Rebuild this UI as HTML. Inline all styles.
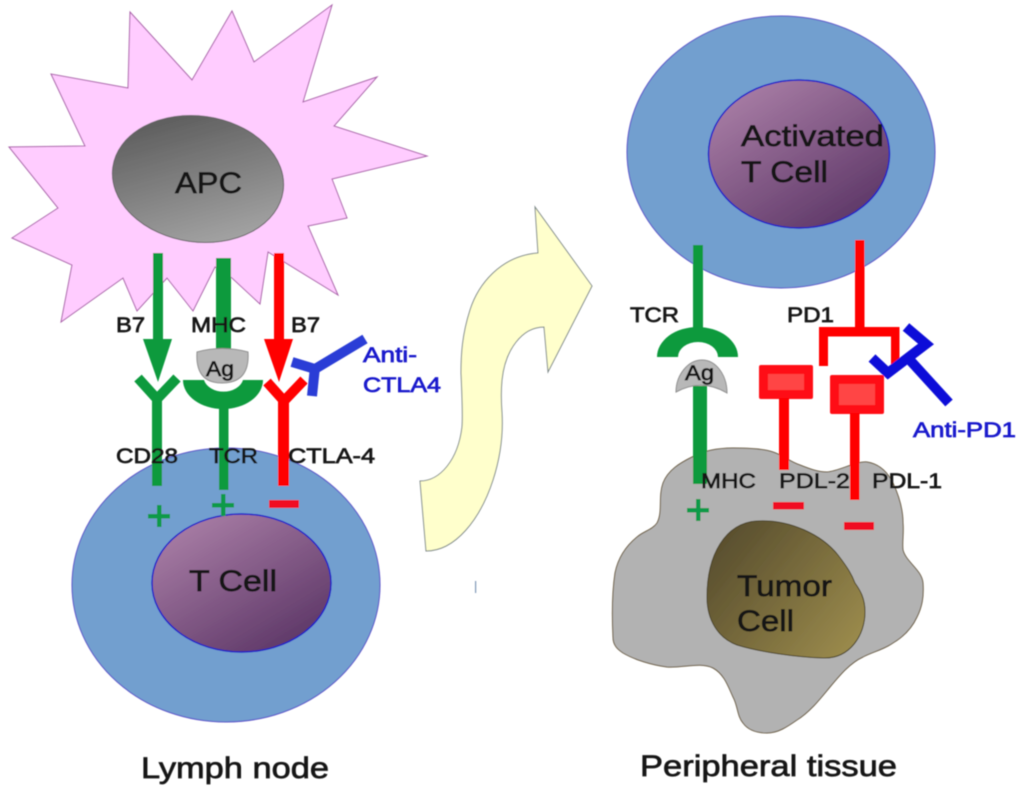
<!DOCTYPE html>
<html><head><meta charset="utf-8"><style>html,body{margin:0;padding:0;background:#fff}svg{display:block}text{font-family:"Liberation Sans",sans-serif;fill:#151515;stroke:#151515;stroke-width:.7}</style></head>
<body>
<svg width="1024" height="797" viewBox="0 0 1024 797" xmlns="http://www.w3.org/2000/svg">
<defs>
<linearGradient id="g" x1="0.2" y1="0" x2="0.8" y2="1"><stop offset="0" stop-color="#595959"/><stop offset="1" stop-color="#a8a8a8"/></linearGradient>
<linearGradient id="p" x1="0.15" y1="0.05" x2="0.85" y2="0.95"><stop offset="0" stop-color="#a97ea6"/><stop offset="1" stop-color="#5c3666"/></linearGradient>
<linearGradient id="t" x1="0" y1="0.1" x2="1" y2="0.8"><stop offset="0" stop-color="#544a2c"/><stop offset="1" stop-color="#9a8a4c"/></linearGradient>
<filter id="b"><feGaussianBlur stdDeviation="0.45"/></filter>
</defs>
<g filter="url(#b)">
<polygon points="130,12 192,80 232,11 254,62 332,5 303,102 377,77 334,126 427,156 332,179 347,218 308,226 338,295 268,252 260,304 232,278 215,267 193,311 167,278 137,311 123,278 61,322 72,265 12,238 58,208 9,147 85,146 51,74 128,88" fill="#ffccff" stroke="#a860a8" stroke-width="1"/>
<ellipse cx="198" cy="179" rx="86" ry="63" transform="rotate(8 198 179)" fill="url(#g)" stroke="#666" stroke-width="1"/>
<ellipse cx="226" cy="585" rx="154" ry="137" fill="#729fcf" stroke="#5a50c8" stroke-width="1"/>
<ellipse cx="241.500" cy="583" rx="89.500" ry="69" fill="url(#p)" stroke="#1a1ac8" stroke-width="1.500"/>
<ellipse cx="781" cy="152" rx="154" ry="136" fill="#729fcf" stroke="#5a50c8" stroke-width="1"/>
<ellipse cx="799" cy="154" rx="90.500" ry="74" fill="url(#p)" stroke="#1a1ac8" stroke-width="1.500"/>
<path d="M535,207 L538,253 C500,256 478,285 470,310 C462,335 461,355 461,373 C462,395 463,415 462,427 C458,460 440,481 420,481 L426,551 C455,551 480,520 493,480 C502,452 503,430 502,413 C501,400 501,390 502,380 C505,350 522,327 544,327 L548,372 L592,286 Z" fill="#ffffcc" stroke="#7f8a8a" stroke-width="1"/>
<rect x="475" y="581" width="1.200" height="12" fill="#7f97b5"/>
<path d="M692,457 C705,450 720,448 733,448 C750,448 765,449 773,452 C785,456 790,462 800,465 C810,469 818,472 827,472 C840,471 855,461 867,462 C880,464 888,473 893,483 C900,498 903,510 903,523 C904,533 902,542 903,550 C906,562 922,570 923,583 C924,597 922,607 917,617 C912,628 903,637 893,643 C883,650 872,652 863,657 C850,663 840,675 830,687 C820,699 810,712 797,720 C787,727 778,733 767,733 C757,733 748,730 743,723 C737,716 738,706 733,697 C728,686 724,674 713,668 C700,662 684,668 667,667 C652,665 635,660 623,653 C617,649 613,645 613,637 C612,617 612,593 615,573 C618,558 626,546 637,537 C644,531 652,530 657,523 C663,512 658,497 663,483 C668,470 680,463 692,457 Z" fill="#b2b2b2" stroke="#6b5c40" stroke-width="1"/>
<path d="M757,521 C790,519 822,535 838,555 C848,568 852,575 855,583 C860,590 865,598 865,612 C865,635 850,659 823,658 C795,657 760,652 737,645 C718,638 707,620 707,597 C707,555 725,523 757,521 Z" fill="url(#t)" stroke="#4a4326" stroke-width="1"/>

<!-- left green -->
<rect x="153" y="253" width="10" height="88" fill="#0a9a3e"/>
<polygon points="143,339 172,339 158,382" fill="#0a9a3e"/>
<polyline points="138,378 157,399 177,378" fill="none" stroke="#0a9a3e" stroke-width="10"/>
<rect x="152" y="396" width="10" height="90" fill="#0a9a3e"/>
<rect x="216" y="258" width="15" height="96" fill="#0a9a3e"/>
<path d="M197,352 Q222,345 248,352 Q250,383 222,383 Q195,383 197,352 Z" fill="#b8b8b8" stroke="#8f8f8f" stroke-width="1"/>
<path d="M183,380 A40,29 0 0 0 263,380 L243,380 A20,15 0 0 1 204,380 Z" fill="#0a9a3e"/>
<rect x="219" y="405" width="9.500" height="85" fill="#0a9a3e"/>
<!-- left red -->
<rect x="274" y="253" width="10" height="88" fill="#ff0000"/>
<polygon points="264,339 293,339 279,382" fill="#ff0000"/>
<polyline points="267,382 284,401 304,380" fill="none" stroke="#ff0000" stroke-width="10"/>
<rect x="278" y="398" width="11" height="88" fill="#ff0000"/>
<!-- left blue -->
<polyline points="365,339 315,369 292,362" fill="none" stroke="#2a3cd6" stroke-width="10"/>
<line x1="315" y1="367" x2="312" y2="396" stroke="#2a3cd6" stroke-width="10"/>
<!-- signs -->
<g fill="#0f9a48">
<rect x="148" y="514" width="22" height="4.500"/><rect x="157" y="505" width="4.500" height="22"/>
<rect x="212" y="503" width="22" height="4.500"/><rect x="221" y="494" width="4.500" height="22"/>
<rect x="687" y="508" width="22" height="4.500"/><rect x="696" y="499" width="4.500" height="22"/>
</g>
<g fill="#f01020">
<rect x="269" y="500" width="30" height="8"/>
<rect x="773" y="502" width="31" height="7.500"/>
<rect x="844" y="522" width="30" height="8"/>
</g>

<!-- right green -->
<rect x="693" y="245" width="10" height="90" fill="#0a9a3e"/>
<path d="M657,357 A40.500,30 0 0 1 738,357 L718,357 A20,15 0 0 0 678,357 Z" fill="#0a9a3e"/>
<path d="M676,392 C676,375 688,360 702,360 C716,360 727,375 727,393 Q702,378 676,392 Z" fill="#b8b8b8" stroke="#8f8f8f" stroke-width="1"/>
<rect x="693" y="386" width="14" height="98" fill="#0a9a3e"/>
<!-- right red -->
<rect x="855" y="240" width="9.500" height="90" fill="#ff0000"/>
<rect x="819" y="327" width="80" height="9.500" fill="#ff0000"/>
<rect x="819" y="327" width="9" height="39" fill="#ff0000"/>
<rect x="891" y="327" width="8.500" height="38" fill="#ff0000"/>
<rect x="759" y="365" width="54" height="34" rx="2" fill="#ff0c14"/>
<rect x="768" y="374" width="36" height="16" fill="#ff4444"/>
<rect x="779" y="398" width="10" height="72" fill="#ff0000"/>
<rect x="830" y="375" width="54" height="39" rx="2" fill="#ff0c14"/>
<rect x="839" y="384" width="36" height="21" fill="#ff4444"/>
<rect x="850" y="413" width="9.500" height="87" fill="#ff0000"/>
<!-- right blue -->
<polyline points="872,358 888,373 926,344 906,327" fill="none" stroke="#0a0ad8" stroke-width="10"/>
<line x1="908" y1="358" x2="949" y2="403" stroke="#0a0ad8" stroke-width="10"/>

<!-- text -->
<g>
<text x="175" y="193" font-size="30" textLength="67" lengthAdjust="spacingAndGlyphs">APC</text>
<text x="189" y="591" font-size="30" textLength="88" lengthAdjust="spacingAndGlyphs">T Cell</text>
<text x="741" y="146" font-size="30" textLength="143" lengthAdjust="spacingAndGlyphs">Activated</text>
<text x="741" y="182" font-size="30" textLength="87" lengthAdjust="spacingAndGlyphs">T Cell</text>
<text x="737" y="596" font-size="30" textLength="95" lengthAdjust="spacingAndGlyphs">Tumor</text>
<text x="737" y="631" font-size="30" textLength="57" lengthAdjust="spacingAndGlyphs">Cell</text>
<text x="116" y="332" font-size="21" textLength="29" lengthAdjust="spacingAndGlyphs">B7</text>
<text x="191" y="332" font-size="21" textLength="55" lengthAdjust="spacingAndGlyphs">MHC</text>
<text x="291" y="332" font-size="21" textLength="29" lengthAdjust="spacingAndGlyphs">B7</text>
<text x="206" y="376" font-size="21" textLength="28" lengthAdjust="spacingAndGlyphs">Ag</text>
<text x="116" y="463" font-size="21" textLength="62" lengthAdjust="spacingAndGlyphs">CD28</text>
<text x="209" y="463" font-size="21" textLength="49" lengthAdjust="spacingAndGlyphs">TCR</text>
<text x="288" y="463" font-size="21" textLength="87" lengthAdjust="spacingAndGlyphs">CTLA-4</text>
<text x="630" y="322" font-size="21" textLength="49" lengthAdjust="spacingAndGlyphs">TCR</text>
<text x="787" y="322" font-size="21" textLength="47" lengthAdjust="spacingAndGlyphs">PD1</text>
<text x="685" y="380" font-size="21" textLength="29" lengthAdjust="spacingAndGlyphs">Ag</text>
<text x="701" y="488" font-size="21" textLength="55" lengthAdjust="spacingAndGlyphs">MHC</text>
<text x="779" y="488" font-size="21" textLength="71" lengthAdjust="spacingAndGlyphs">PDL-2</text>
<text x="872" y="488" font-size="21" textLength="70" lengthAdjust="spacingAndGlyphs">PDL-1</text>
<text x="363" y="362" font-size="21" textLength="54" lengthAdjust="spacingAndGlyphs" style="fill:#1a1acc;stroke:#1a1acc">Anti-</text>
<text x="363" y="392" font-size="21" textLength="78" lengthAdjust="spacingAndGlyphs" style="fill:#1a1acc;stroke:#1a1acc">CTLA4</text>
<text x="913" y="437" font-size="21" textLength="103" lengthAdjust="spacingAndGlyphs" style="fill:#1a1acc;stroke:#1a1acc">Anti-PD1</text>
<text x="141" y="778" font-size="30" textLength="188" lengthAdjust="spacingAndGlyphs">Lymph node</text>
<text x="640" y="776" font-size="30" textLength="257" lengthAdjust="spacingAndGlyphs">Peripheral tissue</text>
</g>
</g>
</svg>
</body></html>
